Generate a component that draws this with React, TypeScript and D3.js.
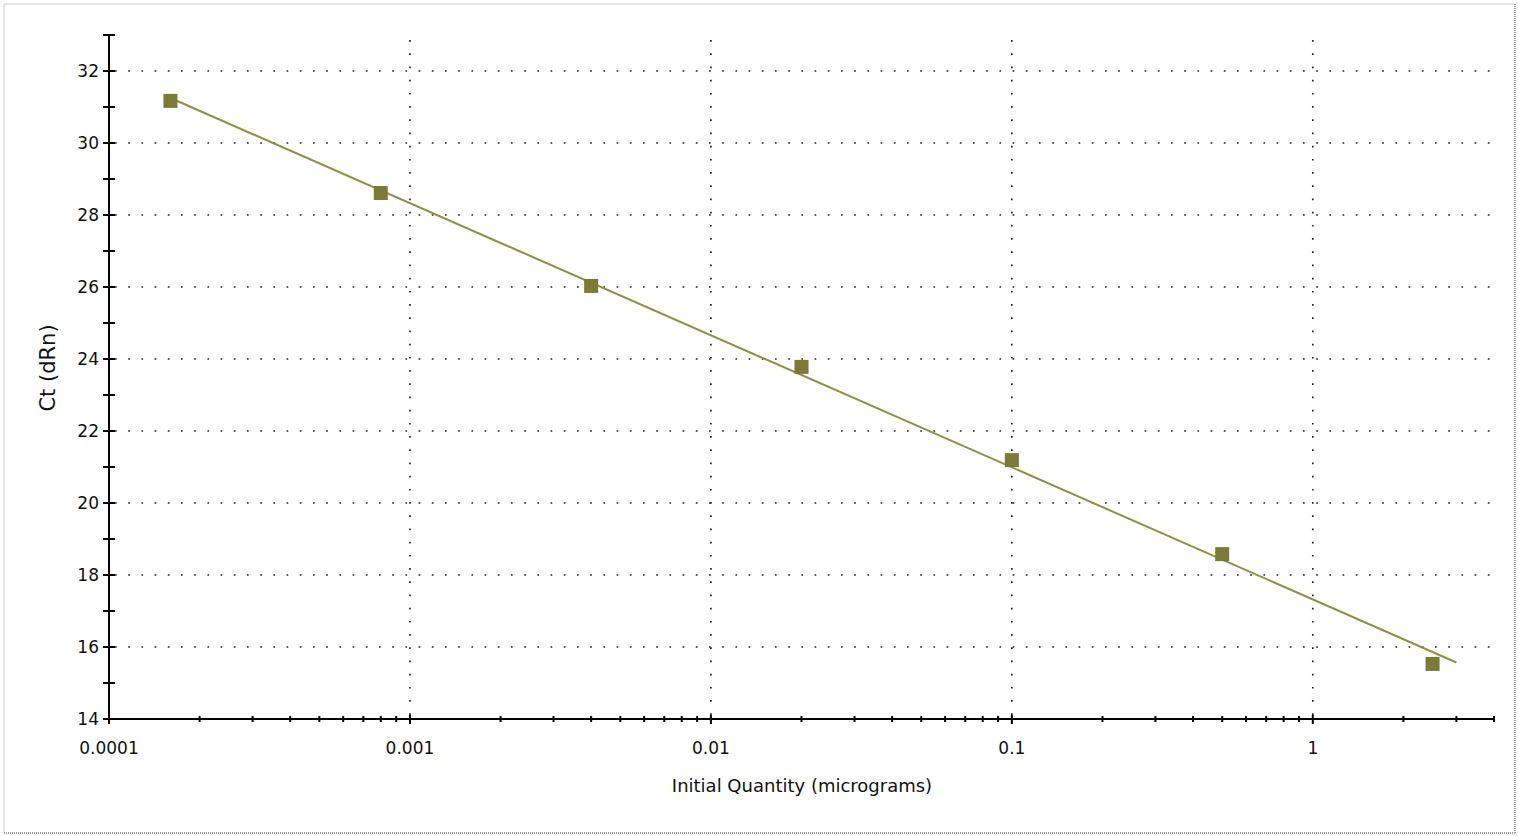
import * as d3 from "d3"

// dilution series (micrograms) and measured Ct
const quantities = [0.00016, 0.0008, 0.004, 0.02, 0.1, 0.5, 2.5]
const ctValues = [31.17, 28.61, 26.03, 23.78, 21.19, 18.58, 15.53]
const fitExtent = [0.00016, 3]
const xDecades = [0.0001, 0.001, 0.01, 0.1, 1]
const xTickLabels = ["0.0001", "0.001", "0.01", "0.1", "1"]
const yMajor = [14, 16, 18, 20, 22, 24, 26, 28, 30, 32]
const yMinor = [15, 17, 19, 21, 23, 25, 27, 29, 31, 33]

const W = 1518
const H = 836
const FONT = "'DejaVu Sans', Verdana, sans-serif"

export default function App() {
  const x = d3.scaleLog().domain([0.0001, 4]).range([109, 1494])
  const y = d3.scaleLinear().domain([14, 33]).range([719, 35])

  // least squares fit of Ct against log10(quantity)
  const lx = quantities.map(Math.log10)
  const mx = d3.mean(lx)!
  const my = d3.mean(ctValues)!
  const slope =
    d3.sum(lx, (v, i) => (v - mx) * (ctValues[i] - my)) /
    d3.sum(lx, (v) => (v - mx) ** 2)
  const fit = (q: number) => my + slope * (Math.log10(q) - mx)
  const line = d3
    .line<number>()
    .x((q) => x(q))
    .y((q) => y(fit(q)))

  const minorX = x.ticks().filter((t) => !xDecades.includes(t))
  const [x0, x1] = x.range()
  const [y0, y1] = y.range()

  return (
    <div style={{ position: "absolute", left: 0, top: 0 }}>
      <svg width={W} height={H} style={{ display: "block", background: "#fff" }}>
        {/* window frame */}
        <line x1={4} y1={4} x2={W - 4} y2={4} stroke="#e6e6e6" strokeWidth={2} />
        <line x1={4} y1={4} x2={4} y2={H - 4} stroke="#e6e6e6" strokeWidth={2} />
        <line x1={W - 3} y1={4} x2={W - 3} y2={H - 3} stroke="#9a9a9a" strokeWidth={2} strokeDasharray="1 1" />
        <line x1={4} y1={H - 3} x2={W - 3} y2={H - 3} stroke="#9a9a9a" strokeWidth={2} strokeDasharray="1 1" />

        {/* grid */}
        <g stroke="#222" strokeWidth={1.7} strokeDasharray="1.7 11.5">
          {yMajor.slice(1).map((v) => (
            <line key={"h" + v} x1={x0 + 6} x2={x1 + 3} y1={y(v)} y2={y(v)} />
          ))}
          {xDecades.slice(1).map((v) => (
            <line key={"v" + v} x1={x(v)} x2={x(v)} y1={y0 - 4} y2={y1} />
          ))}
        </g>

        {/* axes */}
        <g stroke="#000" strokeWidth={2}>
          <line x1={x0} x2={x0} y1={y0} y2={y1} />
          <line x1={x0} x2={x1} y1={y0} y2={y0} />
          {yMajor.concat(yMinor).map((v) => (
            <line key={"yt" + v} x1={x0 - 6} x2={x0 + 6} y1={y(v)} y2={y(v)} />
          ))}
          {xDecades.map((v) => (
            <line key={"xt" + v} x1={x(v)} x2={x(v)} y1={y0 - 4} y2={y0 + 5} />
          ))}
          {minorX.map((v) => (
            <line key={"xm" + v} x1={x(v)} x2={x(v)} y1={y0 - 3} y2={y0 + 3} />
          ))}
        </g>

        {/* tick labels */}
        <g fontFamily={FONT} fontSize={17} fill="#111">
          {yMajor.map((v) => (
            <text key={"yl" + v} x={x0 - 10} y={y(v)} dy="0.36em" textAnchor="end">
              {v}
            </text>
          ))}
          {xDecades.map((v, i) => (
            <text key={"xl" + v} x={x(v)} y={y0 + 35} textAnchor="middle">
              {xTickLabels[i]}
            </text>
          ))}
        </g>

        {/* axis titles */}
        <text x={802} y={792} textAnchor="middle" fontFamily={FONT} fontSize={18} fill="#111">
          Initial Quantity (micrograms)
        </text>
        <text
          transform={`translate(55,368) rotate(-90)`}
          textAnchor="middle"
          fontFamily={FONT}
          fontSize={21}
          fill="#111"
        >
          Ct (dRn)
        </text>

        {/* standard curve */}
        <path d={line(fitExtent) ?? ""} fill="none" stroke="#8f8f45" strokeWidth={2} />
        {quantities.map((q, i) => (
          <rect
            key={"p" + i}
            x={x(q) - 7}
            y={y(ctValues[i]) - 7}
            width={14}
            height={14}
            fill="#7b7b38"
          />
        ))}
      </svg>
    </div>
  )
}
